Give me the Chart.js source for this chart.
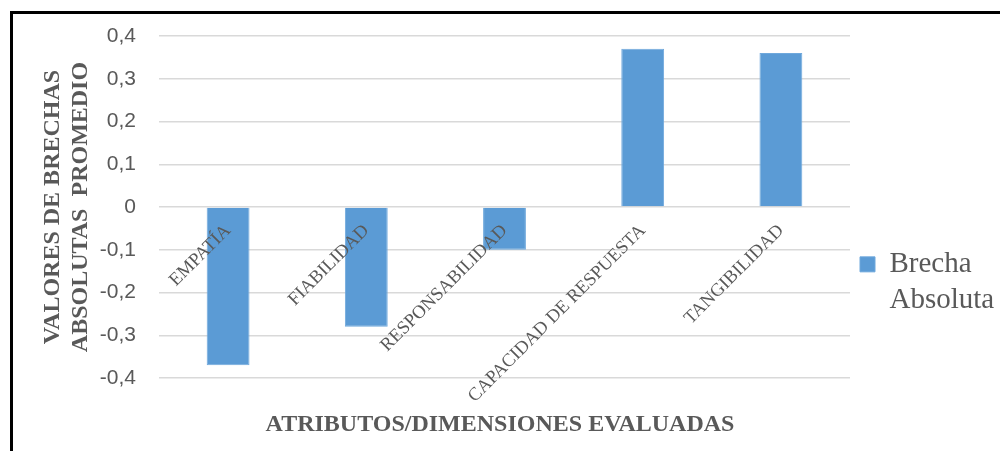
<!DOCTYPE html>
<html>
<head>
<meta charset="utf-8">
<script src="https://cdn.jsdelivr.net/npm/chart.js@4.4.1/dist/chart.umd.min.js"></script>
<style>
	body { margin: 0; background: #fff; }
	#wrap { position: relative; width: 1000px; height: 451px; }
	#frame { position: absolute; left: 10px; top: 11px; right: 0; bottom: 0;
		border-left: 3px solid #000; border-top: 3px solid #000; pointer-events: none; }
</style>
</head>
<body>
<div id="wrap">
	<canvas id="myChart" width="1000" height="451"></canvas>
	<div id="frame"></div>
</div>
<script>
var categories = ['EMPATÍA', 'FIABILIDAD', 'RESPONSABILIDAD', 'CAPACIDAD DE RESPUESTA', 'TANGIBILIDAD'];
var brecha = [-0.37, -0.28, -0.10, 0.37, 0.36];
var yTickLabels = ['-0,4', '-0,3', '-0,2', '-0,1', '0', '0,1', '0,2', '0,3', '0,4'];
var seriesLabel = 'Brecha Absoluta';

var grey = '#595959';
var serif = "'Liberation Serif', 'Times New Roman', serif";

var ctx = document.getElementById('myChart');

var barGraph = new Chart(ctx, {
	type: 'bar',
	data: {
		labels: categories,
		datasets: [
			{
				label: seriesLabel,
				data: brecha,
				backgroundColor: '#5b9bd5',
				borderColor: '#6fa8dc',
				borderWidth: 1,
				categoryPercentage: 1,
				barPercentage: 0.31
			}
		]
	},
	options: {
		responsive: false,
		animation: false,
		layout: { padding: { left: 0, top: 36, right: 0, bottom: 0 } },
		scales: {
			x: {
				position: { y: 0 },
				grid: { display: false, drawTicks: false },
				border: { display: false },
				ticks: {
					z: 1,
					autoSkip: false,
					minRotation: 45,
					maxRotation: 45,
					padding: 13,
					color: grey,
					font: { family: serif, size: 18.5 }
				},
				afterFit: function(scale) { scale.height = 0; }
			},
			y: {
				min: -0.4,
				max: 0.4,
				grid: { color: '#d9d9d9', lineWidth: 1.5, drawTicks: false },
				border: { display: false },
				ticks: {
					stepSize: 0.1,
					padding: 23,
					color: grey,
					font: { family: "'Liberation Sans', Arial, sans-serif", size: 21 },
					callback: function(value, index) { return yTickLabels[index]; }
				},
				title: {
					display: true,
					text: ['VALORES DE BRECHAS', 'ABSOLUTAS  PROMEDIO'],
					color: grey,
					font: { family: serif, size: 24, weight: 'bold', lineHeight: 1.2 },
					padding: { top: 38, bottom: 4 }
				},
				afterFit: function(scale) { scale.width = 159; }
			}
		},
		plugins: {
			title: {
				display: true,
				position: 'bottom',
				text: 'ATRIBUTOS/DIMENSIONES EVALUADAS',
				color: grey,
				font: { family: serif, size: 24, weight: 'bold', lineHeight: 1.2 },
				padding: { top: 32.6, bottom: 11.6 }
			},
			legend: {
				position: 'right',
				align: 'center',
				maxWidth: 150,
				title: { display: true, text: ' ', font: { size: 1 }, padding: { top: 84, bottom: 0 } },
				labels: {
					boxWidth: 15,
					boxHeight: 15,
					padding: 10,
					color: grey,
					font: { family: serif, size: 29, lineHeight: 1.25 },
					generateLabels: function(chart) {
						var items = Chart.defaults.plugins.legend.labels.generateLabels(chart);
						items.forEach(function(it) { it.text = it.text.split(' '); });
						return items;
					}
				}
			},
			tooltip: { enabled: false }
		}
	}
});
</script>
</body>
</html>
